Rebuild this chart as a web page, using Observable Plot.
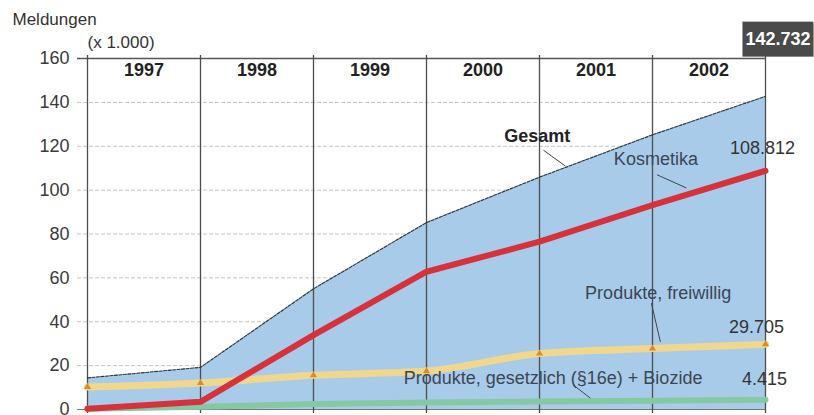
<!DOCTYPE html>
<html>
<head>
<meta charset="utf-8">
<script src="https://cdn.jsdelivr.net/npm/d3@7"></script>
<script src="https://cdn.jsdelivr.net/npm/@observablehq/plot@0.6"></script>
<style>
  body { margin: 0; background: #fff; }
  svg { display: block; }
</style>
</head>
<body>
<script>
// Meldungen (x 1.000), cumulative counts at each year boundary (start 1997 .. end 2002)
const years = ["1997", "1998", "1999", "2000", "2001", "2002"];
const steps = [0, 1, 2, 3, 4, 5, 6];
const gesamt = [14.4, 19.2, 55.0, 85.2, 105.9, 125.2, 142.732];
const kosmetika = [0.3, 3.5, 33.9, 62.8, 76.5, 93.2, 108.812];
const freiwillig = [10.3, 12.1, 15.6, 17.5, 25.5, 27.8, 29.705];
const gesetzlich = [0.3, 1.2, 2.5, 3.2, 3.6, 4.0, 4.415];
const yTicks = [0, 20, 40, 60, 80, 100, 120, 140, 160];

const rows = steps.map((s, i) => ({
  s, gesamt: gesamt[i], kosmetika: kosmetika[i],
  freiwillig: freiwillig[i], gesetzlich: gesetzlich[i]
}));
const last = rows[rows.length - 1];

// series labels with their leader lines (in chart units)
const totalLabel = [{text: "Gesamt", x: 3.98, y: 124.4}];
const seriesLabels = [
  {text: "Kosmetika", x: 5.03, y: 114.2},
  {text: "Produkte, freiwillig", x: 5.05, y: 53.0},
  {text: "Produkte, gesetzlich (§16e) + Biozide", x: 4.12, y: 14.3}
];
const leaders = [
  {x1: 4.035, y1: 118.2, x2: 4.23, y2: 110.9},
  {x1: 5.04, y1: 107.0, x2: 5.30, y2: 101.0},
  {x1: 4.99, y1: 48.5, x2: 5.07, y2: 30.8},
  {x1: 4.30, y1: 11.1, x2: 4.45, y2: 5.2}
];

const fmt = v => v.toFixed(3);
const font = "'Liberation Sans', Arial, sans-serif";

const svg = Plot.plot({
  width: 814,
  height: 415,
  marginLeft: 87,
  marginRight: 49,
  marginTop: 58,
  marginBottom: 6,
  style: {fontFamily: font, fontSize: "18px", color: "#333", background: "#fff"},
  x: {type: "linear", domain: [0, 6], axis: null},
  y: {domain: [0, 160], axis: null},
  marks: [
    // horizontal gridlines, extended left as tick marks
    Plot.ruleY(yTicks.filter(d => d > 0 && d < 160), {
      stroke: "#c4c4c4", strokeDasharray: "4,2", insetLeft: -10
    }),
    Plot.axisY(yTicks, {
      tickSize: 0, tickPadding: 18, fontSize: 18, fill: "#3a3a3a",
      tickFormat: d => String(d)
    }),
    // stacked total as filled area
    Plot.areaY(rows, {x: "s", y: "gesamt", fill: "#a9cbea"}),
    Plot.ruleY([0], {stroke: "#777", strokeWidth: 1.2, insetLeft: -10}),
    Plot.ruleY([160], {stroke: "#555", strokeWidth: 1.4, insetLeft: -10}),
    // year boundaries
    Plot.ruleX(steps, {stroke: "#4d4d4d", strokeWidth: 1.3, insetTop: -3, insetBottom: -4}),
    Plot.line(rows, {x: "s", y: "gesamt", stroke: "#333", strokeWidth: 1.1, strokeDasharray: "3,1.5"}),
    Plot.line(rows, {x: "s", y: "gesetzlich", stroke: "#84c9a2", strokeWidth: 6}),
    Plot.line(rows, {x: "s", y: "freiwillig", stroke: "#f1d78e", strokeWidth: 7, curve: "monotone-x"}),
    Plot.dot(rows, {x: "s", y: "freiwillig", symbol: "triangle", r: 2.6, fill: "#d98a2b"}),
    Plot.line(rows, {x: "s", y: "kosmetika", stroke: "#d6323c", strokeWidth: 6, strokeLinejoin: "round"}),
    // year headings
    Plot.text(years, {x: (d, i) => i + 0.5, y: () => 160, dy: 12, text: d => d,
      fontWeight: "bold", fontSize: 18, fill: "#222"}),
    // axis title
    Plot.text(["Meldungen"], {frameAnchor: "top-left", lineAnchor: "middle", dx: -75, dy: -38.5,
      textAnchor: "start", fontSize: 17, fill: "#333"}),
    Plot.text(["(x 1.000)"], {frameAnchor: "top-left", lineAnchor: "middle", dx: 0, dy: -15.5,
      textAnchor: "start", fontSize: 17, fill: "#333"}),
    // leaders and series names
    Plot.link(leaders, {x1: "x1", y1: "y1", x2: "x2", y2: "y2", stroke: "#444", strokeWidth: 1}),
    Plot.text(totalLabel, {x: "x", y: "y", text: "text", fontWeight: "bold", fontSize: 18, fill: "#222"}),
    Plot.text(seriesLabels, {x: "x", y: "y", text: "text", fontSize: 18, fill: "#3b4652"}),
    // end values
    Plot.text([last], {x: "s", y: "kosmetika", text: d => fmt(d.kosmetika), dx: -3, dy: -23, fontSize: 18, fill: "#333"}),
    Plot.text([last], {x: "s", y: "freiwillig", text: d => fmt(d.freiwillig), dx: -9, dy: -17, fontSize: 18, fill: "#333"}),
    Plot.text([last], {x: "s", y: "gesetzlich", text: d => fmt(d.gesetzlich), dx: -1, dy: -21, fontSize: 18, fill: "#333"}),
    Plot.text([last], {x: "s", y: "gesamt", text: d => fmt(d.gesamt), dx: 12.5, dy: -57,
      fontWeight: "bold", fontSize: 18, fill: "#fff", className: "total-label"})
  ]
});
document.body.append(svg);

// dark badge behind the total value
const label = svg.querySelector(".total-label text");
if (label) {
  const b = label.getBBox();
  const rect = document.createElementNS("http://www.w3.org/2000/svg", "rect");
  rect.setAttribute("x", b.x - 3);
  rect.setAttribute("y", b.y + b.height / 2 - 17.5);
  rect.setAttribute("width", b.width + 6);
  rect.setAttribute("height", 35);
  rect.setAttribute("fill", "#4a4a4a");
  const tr = label.getAttribute("transform");
  if (tr) rect.setAttribute("transform", tr);
  label.parentNode.insertBefore(rect, label);
}
</script>
</body>
</html>
